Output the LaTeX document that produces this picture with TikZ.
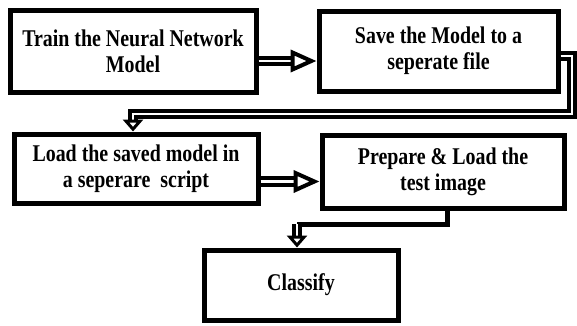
\documentclass[tikz,border=0pt]{standalone}
\usepackage{fontspec}
\newfontfamily\boxfont{Liberation Serif}[FakeStretch=0.83]
\usetikzlibrary{arrows.meta}
\tikzstyle{block} = [rectangle, draw=black, line width=5pt, fill=white, text centered, align=center, font=\boxfont\bfseries\fontsize{24}{26}\selectfont]
\tikzstyle{arrow} = [draw=black, double=white, line width=4pt, double distance=2.5pt, -{Triangle[open,length=26pt,width=22pt]}]
\tikzstyle{downarrow} = [draw=black, double=white, line width=3.5pt, double distance=2.5pt, -{Triangle[open,length=12pt,width=20pt]}]
\tikzstyle{elbow} = [draw=black, line width=5pt]

\begin{document}
\begin{tikzpicture}[x=1pt,y=-1pt]
\useasboundingbox (0,0) rectangle (577,325);
\node (Train)[block, minimum width=246pt, minimum height=82pt] at (133,51) {Train the Neural Network\\Model};
\node (Save)[block, minimum width=239pt, minimum height=80pt] at (438.5,51) {Save the Model to a\\seperate file};
\node (Load)[block, minimum width=244pt, minimum height=69pt] at (136,168.5) {Load the saved model in\\a seperare~ script};
\node (Prep)[block, minimum width=242pt, minimum height=73pt] at (443,171.5) {Prepare \& Load the\\test image};
\node (Classify)[block, minimum width=194pt, minimum height=70pt] at (301,285) {Classify};
\coordinate (turn) at (572,114);
\coordinate (bend) at (297,224);
\draw [arrow]([yshift=-10pt]Train.east) -- ([yshift=-10pt]Save.west);
\draw [downarrow]([yshift=-5pt]Save.east) -| (turn) -| ([xshift=-3pt]Load.north);
\draw [arrow]([yshift=-13pt]Load.east) -- ([yshift=-13pt]Load.east -| Prep.west);
\draw [elbow]([xshift=4pt]Prep.south) |- (bend);
\draw [downarrow](bend) -- (bend |- Classify.north);
\end{tikzpicture}
\end{document}
